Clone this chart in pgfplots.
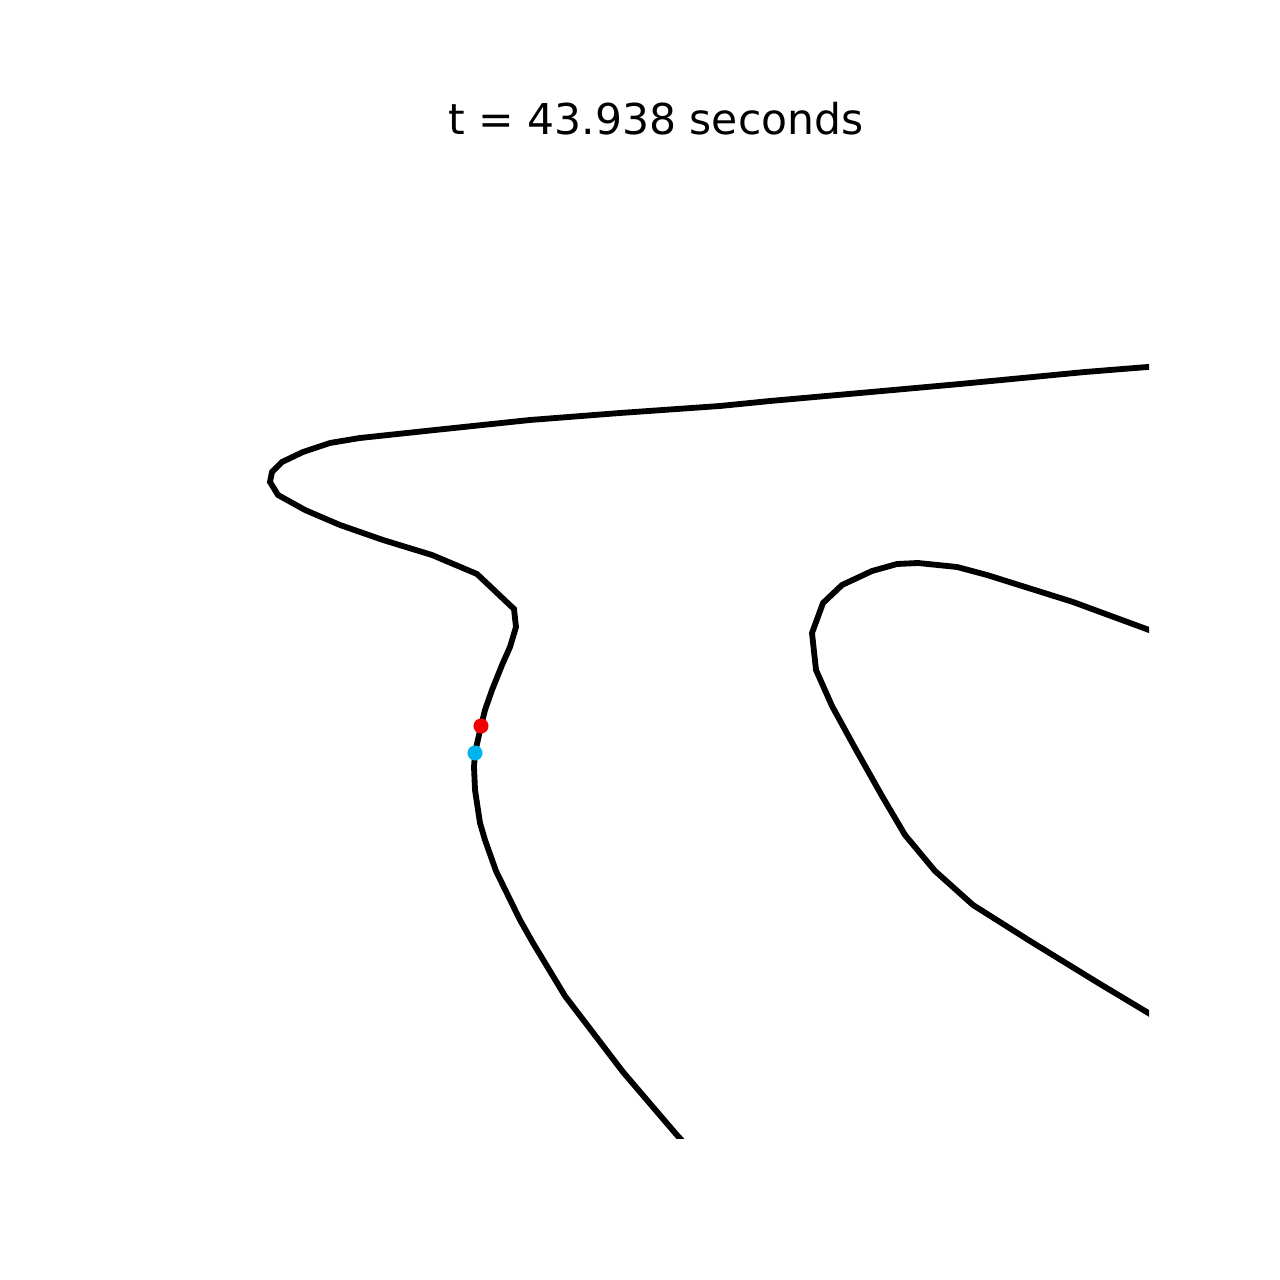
\documentclass[border=0pt]{standalone}
\usepackage{fontspec}
\setmainfont{DejaVu Sans}
\usepackage{pgfplots}
\pgfplotsset{compat=1.18}
\definecolor{dotblue}{RGB}{0,180,240}
\definecolor{dotred}{RGB}{240,0,0}
\begin{document}
\begin{tikzpicture}[x=0.36bp,y=0.36bp]
\path[use as bounding box] (0,0) rectangle (1280,1280);
\begin{axis}[
  at={(163*0.36bp,142*0.36bp)}, anchor=south west,
  width=986*0.36bp, height=984*0.36bp, scale only axis,
  xmin=163, xmax=1149, ymin=154, ymax=1138, y dir=reverse,
  axis lines=none, clip=true,
]
\addplot[black, line width=2.1bp, line join=miter] coordinates {
(1160,366) (1085,372) (960,384) (860,393) (770,401) (720,406) (620,413) (530,420) (435,430) (360,438) (330,443) (303,452) (282,462) (272,472) (270,482) (278,495) (305,510) (340,525) (383,540) (432,555) (477,574) (514,609) (516,627) (510,647) (502,665) (492,690) (485,710) (481,726) (475,753) (474,767) (475,790) (480,823) (485,840) (496,871) (520,920) (533,943) (565,996) (623,1072) (676,1134) (686,1145)
};
\addplot[black, line width=2.1bp, line join=miter] coordinates {
(1160,634) (1073,602) (987,575) (957,567) (918,563) (897,564) (872,571) (842,585) (823,603) (812,633) (816,670) (832,706) (855,748) (882,796) (905,835) (935,871) (973,905) (1030,941) (1100,984) (1160,1020)
};
\addplot[only marks, mark=*, mark size=2.5bp, dotred, mark options={draw=dotred, fill=dotred}] coordinates {(481,726)};
\addplot[only marks, mark=*, mark size=2.5bp, dotblue, mark options={draw=dotblue, fill=dotblue}] coordinates {(475,753)};
\end{axis}
\node[anchor=base, font=\fontsize{15.3bp}{18bp}\selectfont, inner sep=0pt] at (656,1145) {t = 43.938 seconds};
\end{tikzpicture}
\end{document}
